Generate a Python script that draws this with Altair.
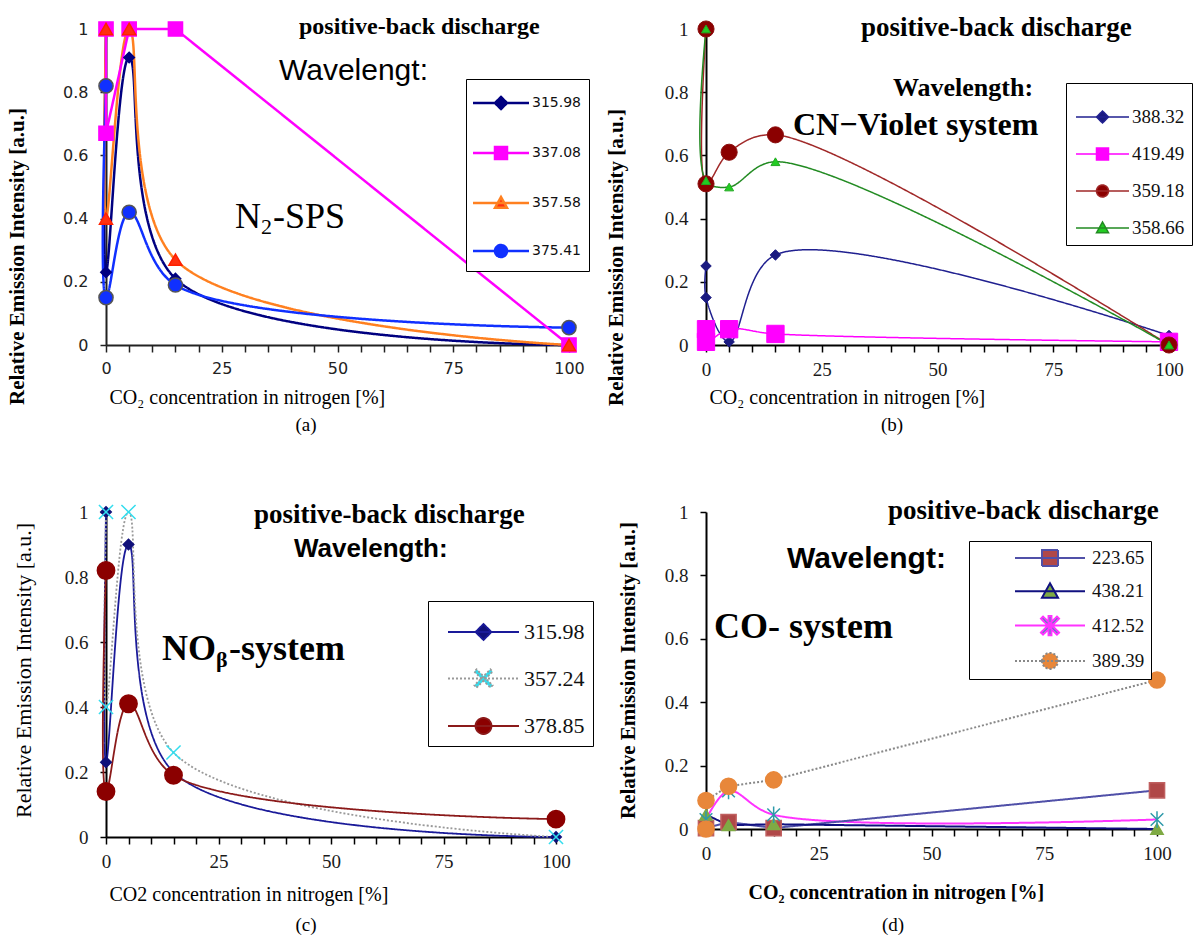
import math
import altair as alt
import pandas as pd

# ---------------- data ----------------
X_TICKS = list(range(0, 101, 5))
Y_TICKS = [0, 0.2, 0.4, 0.6, 0.8, 1]

# (a) N2-SPS
A_NAMES = ["315.98", "337.08", "357.58", "375.41"]
A_X = [0, 0, 5, 15, 100]
A_315_98 = [1.0, 0.23, 0.91, 0.21, 0.0]
A_337_08 = [1.0, 0.67, 1.0, 1.0, 0.0]
A_357_58 = [1.0, 0.40, 1.0, 0.27, 0.0]
A_375_41 = [0.82, 0.15, 0.42, 0.19, 0.055]

# (b) CN-Violet system
B_NAMES = ["388.32", "419.49", "359.18", "358.66"]
B_X = [0, 0, 5, 15, 100]
B_388_32 = [0.25, 0.15, 0.01, 0.285, 0.03]
B_419_49 = [0.05, 0.01, 0.05, 0.035, 0.01]
B_359_18 = [1.0, 0.51, 0.61, 0.665, 0.0]
B_358_66 = [1.0, 0.52, 0.50, 0.58, 0.0]

# (c) NO beta system
C_NAMES = ["315.98", "357.24", "378.85"]
C_X = [0, 0, 5, 15, 100]
C_315_98 = [1.0, 0.23, 0.90, 0.20, 0.0]
C_357_24 = [1.0, 0.40, 1.0, 0.26, 0.0]
C_378_85 = [0.82, 0.14, 0.41, 0.19, 0.055]

# (d) CO system
D_NAMES = ["223.65", "438.21", "412.52", "389.39"]
D_X4 = [0, 5, 15, 100]
D_X5 = [0, 0, 5, 15, 100]
D_223_65 = [0.003, 0.022, 0.003, 0.122]
D_438_21 = [0.045, 0.012, 0.015, 0.0]
D_412_52 = [0.03, 0.12, 0.045, 0.03]
D_389_39 = [0.0, 0.09, 0.135, 0.155, 0.47]

SERIF = "Liberation Serif"
SANS = "Liberation Sans"

POINT_SHAPES = {
    "diamond": "diamond",
    "square": "square",
    "triangle-up": "triangle-up",
    "circle": "circle",
    "x": "M-1,-1L1,1M-1,1L1,-1",
    "asterisk": "M-1,-1L1,1M-1,1L1,-1M0,-1.3L0,1.3",
}


def num(v):
    s = f"{v:.3f}".rstrip("0").rstrip(".")
    return "0" if s in ("-0", "", "0") else s


def bar(x1, y1, x2, y2, t):
    dx, dy = x2 - x1, y2 - y1
    ln = math.hypot(dx, dy)
    px, py = -dy / ln * t, dx / ln * t
    pts = [(x1 + px, y1 + py), (x2 + px, y2 + py), (x2 - px, y2 - py), (x1 - px, y1 - py)]
    return "M" + "L".join(f"{num(a)},{num(b)}" for a, b in pts) + "Z"


def marker_path(kind, m):
    if kind == "diamond":
        return f"M0,{num(-m)}L{num(m)},0L0,{num(m)}L{num(-m)},0Z"
    if kind == "square":
        return f"M{num(-m)},{num(-m)}H{num(m)}V{num(m)}H{num(-m)}Z"
    if kind == "triangle-up":
        return f"M0,{num(-m)}L{num(m)},{num(0.8 * m)}L{num(-m)},{num(0.8 * m)}Z"
    if kind == "circle":
        return (f"M{num(-m)},0A{num(m)},{num(m)},0,1,0,{num(m)},0"
                f"A{num(m)},{num(m)},0,1,0,{num(-m)},0Z")
    if kind == "x":
        t = 0.2 * m
        return bar(-m, -m, m, m, t) + bar(-m, m, m, -m, t)
    if kind == "asterisk":
        t = 0.18 * m
        return bar(-m, -m, m, m, t) + bar(-m, m, m, -m, t) + bar(0, -1.2 * m, 0, 1.2 * m, t)
    return ""


def pick(names, vals):
    expr = f"'{vals[-1]}'"
    for n, v in reversed(list(zip(names[:-1], vals[:-1]))):
        expr = f"datum.value === '{n}' ? '{v}' : ({expr})"
    return expr


def text_layer(s, x, y, size, font=SERIF, weight="bold", align="left", color="black"):
    return alt.Chart(pd.DataFrame({"t": [s]})).mark_text(
        font=font, fontSize=size, fontWeight=weight, align=align, baseline="middle", color=color
    ).encode(text="t:N", x=alt.value(x), y=alt.value(y))


def panel(P):
    names = P["names"]
    rows = []
    for n, xs, ys in zip(names, P["xs"], P["ys"]):
        for i, (xv, yv) in enumerate(zip(xs, ys)):
            rows.append({"series": n, "x": xv, "y": yv, "idx": i,
                         "smooth": n not in P["linear"]})
    df = pd.DataFrame(rows)

    xaxis = alt.Axis(values=X_TICKS, format="d",
                     labelExpr="datum.value % 25 === 0 ? datum.label : ''",
                     labelOverlap=False, labelFlush=False,
                     labelFont=P["tickfont"], labelFontSize=P["ticksize"],
                     labelColor=P["tickcolor"], labelPadding=P["xlabpad"],
                     tickSize=7, tickWidth=1.5, tickColor=P["axcolor"],
                     domainColor=P["axcolor"], domainWidth=2, grid=False,
                     title=P["xtitle"], titleFont=SERIF, titleFontSize=P["xtsize"],
                     titleFontWeight=P["xtweight"], titleColor="black",
                     titleAlign="left", titleBaseline="middle",
                     titleX=P["xtx"], titleY=P["xty"])
    yaxis = alt.Axis(values=Y_TICKS, format="~g", labelOverlap=False, labelFlush=False,
                     labelFont=P["tickfont"], labelFontSize=P["ticksize"],
                     labelColor=P["tickcolor"], labelPadding=P["ylabpad"],
                     tickSize=6, tickWidth=1.5, tickColor=P["axcolor"],
                     domainColor=P["axcolor"], domainWidth=2, grid=False,
                     title="Relative Emission Intensity [a.u.]", titleFont=SERIF,
                     titleFontSize=P["ytsize"], titleFontWeight=P["ytweight"],
                     titleColor="black", titleAngle=-90, titleAlign="center",
                     titleBaseline="middle", titleX=P["ytx"], titleY=P["yty"])
    xsc = alt.Scale(domain=[0, 100], nice=False, zero=False)
    ysc = alt.Scale(domain=[0, 1], nice=False)
    xenc = alt.X("x:Q", scale=xsc, axis=xaxis)
    yenc = alt.Y("y:Q", scale=ysc, axis=yaxis)

    # ---- legend geometry ----
    G = P["leg"]
    sw = P["lw"]
    pad = G["pad"]
    h = 2.0 * (G["c1"] - G["top"] - pad)
    S = (h - sw) ** 2
    u = math.sqrt(S) / 2.0
    rowpad = G["stride"] - h
    xc = (G["l0"] + G["l1"]) / 2.0 - G["left"]
    half = (G["l1"] - G["l0"]) / 2.0
    symoff = xc - pad - h / 2.0
    laboff = (G["lab"] - G["left"]) - pad - h - symoff
    paths = [f"M{num(-half / u)},0H{num(half / u)}" + marker_path(k, G["m"] / u)
             for k in P["shapes"]]
    legend = alt.Legend(
        title=None, orient="none", legendX=G["left"] - P["ox"], legendY=G["top"] - P["oy"],
        padding=pad, rowPadding=rowpad, symbolOffset=symoff, labelOffset=laboff,
        symbolSize=S, symbolStrokeWidth=sw,
        symbolType={"expr": pick(names, paths)},
        symbolFillColor={"expr": pick(names, P["fills"])},
        labelExpr="datum.label + '" + " " * G["trail"] + "'",
        labelFont=G["font"], labelFontSize=G["fs"], labelColor="#111111",
        strokeColor="black", fillColor="white",
    )

    def line_layer(smooth):
        return alt.Chart(df).transform_filter(
            alt.datum.smooth == smooth
        ).mark_line(interpolate="catmull-rom" if smooth else "linear",
                    strokeWidth=P["lw"]).encode(
            x=xenc, y=yenc,
            color=alt.Color("series:N", scale=alt.Scale(domain=names, range=P["lines"]),
                            legend=legend),
            strokeDash=alt.StrokeDash("series:N", scale=alt.Scale(domain=names, range=P["dashes"]),
                                      legend=None),
            order=alt.Order("idx:Q"),
        )

    mk = [n + " " for n in names]
    pts = alt.Chart(df).transform_calculate(mk="datum.series + ' '").mark_point(
        filled=True, opacity=1, strokeWidth=P["psw"]).encode(
        x=xenc, y=yenc,
        fill=alt.Fill("mk:N", scale=alt.Scale(domain=mk, range=P["fills"]), legend=None),
        stroke=alt.Stroke("mk:N", scale=alt.Scale(domain=mk, range=P["strokes"]), legend=None),
        shape=alt.Shape("mk:N", scale=alt.Scale(domain=mk,
                        range=[POINT_SHAPES[k] for k in P["shapes"]]), legend=None),
        size=alt.Size("mk:N", scale=alt.Scale(type="ordinal", domain=mk, range=P["sizes"]),
                      legend=None),
    )
    layers = [line_layer(True), line_layer(False), pts] + P["texts"]
    return alt.layer(*layers).properties(width=P["w"], height=P["h"])


SOLID = [1, 0]
DOT = [2, 2]

PA = dict(
    ox=107, oy=30,
    names=A_NAMES, xs=[A_X] * 4, ys=[A_315_98, A_337_08, A_357_58, A_375_41],
    linear=["337.08"],
    lines=["#000080", "#FF00FF", "#FF8020", "#1030FF"],
    fills=["#000080", "#FF00FF", "#FF3010", "#1030FF"],
    strokes=["#000080", "#FF00FF", "#FF2000", "#555555"],
    shapes=["diamond", "square", "triangle-up", "circle"],
    sizes=[110, 200, 170, 200], dashes=[SOLID] * 4, lw=2.5, psw=1.5,
    w=463, h=316, tickfont="DejaVu Sans", ticksize=16, tickcolor="#222222", axcolor="#222222",
    xlabpad=8, ylabpad=12,
    xtitle="CO₂ concentration in nitrogen [%]", xtsize=20, xtweight="normal", xtx=3, xty=52,
    ytsize=21, ytweight="bold", ytx=-89, yty=227,
    leg=dict(left=467, top=80, c1=104, stride=54, l0=474, l1=530, lab=533, pad=8, m=6,
             font="DejaVu Sans", fs=14, trail=0),
    texts=[
        text_layer("positive-back discharge", 193, -2, 24),
        text_layer("Wavelengt:", 173, 42, 30, font=SANS, weight="normal"),
        text_layer("N", 155, 188, 36, weight="normal", align="right"),
        text_layer("2", 155, 198, 22, weight="normal"),
        text_layer("-SPS", 167, 188, 36, weight="normal"),
        text_layer("(a)", 200, 396, 19, weight="normal", align="center"),
    ],
)

PB = dict(
    ox=707, oy=30,
    names=B_NAMES, xs=[B_X] * 4, ys=[B_388_32, B_419_49, B_359_18, B_358_66],
    linear=[],
    lines=["#202090", "#FF00FF", "#A02828", "#228B22"],
    fills=["#1A1A80", "#FF00FF", "#8B0000", "#22CC22"],
    strokes=["#1A1A80", "#FF00FF", "#8B1010", "#22AA22"],
    shapes=["diamond", "square", "circle", "triangle-up"],
    sizes=[110, 300, 260, 80], dashes=[SOLID] * 4, lw=1.5, psw=1,
    w=463, h=316, tickfont=SERIF, ticksize=19, tickcolor="#1a1a1a", axcolor="black",
    xlabpad=8, ylabpad=12,
    xtitle="CO₂ concentration in nitrogen [%]", xtsize=20, xtweight="normal", xtx=3, xty=52,
    ytsize=21, ytweight="bold", ytx=-90, yty=228,
    leg=dict(left=1067, top=84, c1=118, stride=54, l0=1077, l1=1130, lab=1133, pad=7, m=6,
             font=SERIF, fs=19, trail=0),
    texts=[
        text_layer("positive-back discharge", 155, -1, 27),
        text_layer("Wavelength:", 187, 59, 26),
        text_layer("CN−Violet system", 87, 96, 32),
        text_layer("(b)", 186, 396, 19, weight="normal", align="center"),
    ],
)

PC = dict(
    ox=107, oy=513,
    names=C_NAMES, xs=[C_X] * 3, ys=[C_315_98, C_357_24, C_378_85],
    linear=[],
    lines=["#1A1A99", "#999999", "#8B1A1A"],
    fills=["#10107A", "#33DDEE", "#8B0000"],
    strokes=["#10107A", "#33DDEE", "#8B0000"],
    shapes=["diamond", "x", "circle"],
    sizes=[110, 200, 300], dashes=[SOLID, DOT, SOLID], lw=1.8, psw=1.5,
    w=450, h=325, tickfont=SERIF, ticksize=19, tickcolor="#1a1a1a", axcolor="black",
    xlabpad=8, ylabpad=12,
    xtitle="CO2 concentration in nitrogen [%]", xtsize=20, xtweight="normal", xtx=3, xty=57,
    ytsize=22, ytweight="normal", ytx=-83, yty=158,
    leg=dict(left=429, top=602, c1=633, stride=57.5, l0=449, l1=520, lab=525, pad=8, m=8,
             font=SERIF, fs=22, trail=0),
    texts=[
        text_layer("positive-back discharge", 148, 3, 27),
        text_layer("Wavelength:", 188, 37, 26, font=SANS),
        text_layer("NO", 110, 137, 36, align="right"),
        text_layer("β", 110, 148, 22),
        text_layer("-system", 123, 137, 36),
        text_layer("(c)", 200, 413, 19, weight="normal", align="center"),
    ],
)

PD = dict(
    ox=707, oy=513,
    names=D_NAMES, xs=[D_X4, D_X4, D_X4, D_X5], ys=[D_223_65, D_438_21, D_412_52, D_389_39],
    linear=["223.65", "438.21", "389.39"],
    lines=["#5050A8", "#101080", "#FF33FF", "#888888"],
    fills=["#B04848", "#7FAA44", "#2E9AAA", "#E8873A"],
    strokes=["#C06060", "#7FAA44", "#2E9AAA", "#E8873A"],
    shapes=["square", "triangle-up", "asterisk", "circle"],
    sizes=[230, 150, 160, 260], dashes=[SOLID, SOLID, SOLID, DOT], lw=2, psw=1.5,
    w=451, h=317, tickfont=SERIF, ticksize=19, tickcolor="#1a1a1a", axcolor="black",
    xlabpad=8, ylabpad=12,
    xtitle="CO₂ concentration in nitrogen [%]", xtsize=20, xtweight="bold", xtx=42, xty=63,
    ytsize=21, ytweight="bold", ytx=-78, yty=158,
    leg=dict(left=970, top=542, c1=559, stride=31.3, l0=1016, l1=1086, lab=1093, pad=6, m=8,
             font=SERIF, fs=19, trail=8),
    texts=[
        text_layer("positive-back discharge", 182, -1, 27),
        text_layer("Wavelengt:", 81, 47, 30, font=SANS),
        text_layer("CO- system", 8, 115, 36),
        text_layer("(d)", 187, 413, 19, weight="normal", align="center"),
    ],
)

RES = dict(color="independent", fill="independent", stroke="independent",
           shape="independent", size="independent", strokeDash="independent")

chart = alt.concat(
    panel(PA), panel(PB), panel(PC), panel(PD),
    columns=2, spacing={"row": 167, "column": 137}, bounds="flush",
).resolve_scale(**RES).properties(
    background="white", padding={"left": 5, "top": 14, "right": 0, "bottom": 0}
).configure_view(stroke=None)

chart.save("out.html", embed_options={"renderer": "svg", "actions": False})
